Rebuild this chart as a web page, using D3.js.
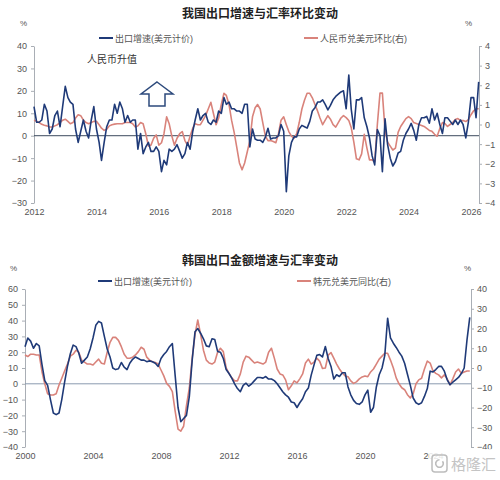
<!DOCTYPE html>
<html>
<head>
<meta charset="utf-8">
<script src="https://cdn.jsdelivr.net/npm/d3@7"></script>
<style>
  body { margin: 0; background: #fff; }
  svg text { font-family: "Liberation Sans", "Noto Sans CJK SC", sans-serif; }
</style>
</head>
<body>
<div id="chart"></div>
<script>
// ---- China: monthly from 2012-01 ----
var cnStart = [2012, 0];
var cnExport = [13,6,6,7,14,11,1,3,9,11,4,13,22,17,15,14,3,-3,2,7,2,-1,7,13,3,-3,-11,-3,4,7,7,14,10,15,12,6,9,6,7,7,
  -6,1,-8,-5,-3,-7,-7,-5,-7,-16,-11,-13,-6,-7,-6,-4,-7,-10,-8,-3,-6,2,7,12,7,9,10,6,5,7,6,11,10,17,14,15,12,12,11,11,
  10,14,14,-5,3,-1.5,-2,-2,-3,-0.6,3.3,-1.5,-1,-1,0,5,2,-25,-9,-3,-0.5,-0.5,3,4.6,4,3.4,6.4,11,12.5,15,15,16,14,11.5,13.5,16,
  17.5,18.5,19.5,20,12,27,12,3,16,16,17,8,4,-1,-9,-13,2.7,0,-16,7.5,-4,-10,-13.5,-11.5,-7.7,-7,-2,1,3,5.5,2.5,-2,5,8,
  8,8.6,5.6,12,7,10,5,1,8,8,6.5,5,7,5,7,4.9,-1,6,17,17,8,24];
var cnRate = [0.22,0.16,0.10,0.01,-0.04,-0.07,-0.13,-0.13,-0.07,-0.01,0.10,0.22,0.27,0.16,0.04,0.10,0.33,0.50,0.45,0.22,
  0.10,0.04,0.10,0.16,0.16,-0.01,-0.19,-0.30,-0.24,-0.07,-0.01,0.02,0.04,0.04,0.04,0.10,0.10,0.10,0.04,-0.13,
  -0.07,0.10,0.04,-0.47,-1.10,-1.05,-0.70,-0.53,-1.05,-0.93,-0.47,0.39,0.04,-0.59,-1.05,-0.70,-0.47,-0.36,-0.82,-1.05,
  -0.59,-0.19,0.04,-0.01,-0.01,0.22,0.45,0.79,1.13,0.56,-0.01,0.33,1.02,1.59,1.48,1.02,0.22,-0.41,-1.16,-1.96,
  -2.31,-1.96,-1.39,-0.82,0.39,0.85,1.02,0.79,0.10,-0.59,-0.82,-0.82,-0.87,-0.93,-0.47,0.22,0.39,-0.01,-0.36,-0.59,
  -0.70,-0.47,0.10,0.79,1.25,1.59,1.59,1.36,1.02,0.68,0.33,-0.01,0.22,0.45,0.27,-0.01,-0.13,0.10,0.33,0.45,
  0.35,0.2,-0.15,-0.9,-1.75,-1.8,-1.5,-0.5,-1.2,-1.8,-1.8,-1.9,0,1.6,1.6,-0.3,-0.9,-1.1,-1.3,-1.2,
  -0.4,-0.1,0.1,0.3,0.4,0.3,0.1,0.05,0,-0.05,-0.1,-0.2,-0.3,-0.35,-0.5,-0.6,-0.2,0.1,0.05,-0.1,
  0,0.1,0.25,0.3,0.2,0.2,0.15,0.25,0.5,0.7,0.8,0.8];
var cnYears = [2012,2014,2016,2018,2020,2022,2024,2026];
var cnLeftTicks = [-30,-20,-10,0,10,20,30,40];
var cnRightTicks = [-4,-3,-2,-1,0,1,2,3,4];

// ---- Korea: every 2 months from 2000-01 ----
var krStart = [2000, 0];
var krExport = [23.5,29,27,22.5,25.5,24,12,2,-1,-10,-18.5,-19.5,-18.5,-10,1,11,19,24.5,23.5,19.5,
  13,15,17,22,29,37,39.5,38.5,30,22,17,10,9,9.5,13.5,10.5,9,13,15.5,17,
  16,15,15,14,14.5,14,13,11,16,18.5,20.5,23.5,25.5,5,-15,-24,-22,-20,-8,15,
  33,35,32,28.5,24,23.5,28.5,28,20.5,20,16,9,6.5,3.6,0,-3,-5,-1,0.4,-1.5,
  0,2,4,4,3.6,4.6,3,3,2,0,-2.5,-5,-7,-8.5,-11.5,-12,-15,-12,-9.5,-5,
  -2.7,5.5,12,18,18.5,17,23.6,16,11,3,5.7,4.6,7,7,-2,-7,-10.5,-12.5,-13,-11.5,
  -7,-4,-18,-15,-2,5.7,10,18,41.5,29,25.7,23,20,17.5,13,6,-1,-9,-12,-13,
  -12,-8,-3,8,7.5,9,11,11,8,2.5,-0.6,1,2.5,4,6.5,10,28,42];
var krRate = [6.6,5.8,7,7,6.6,6.6,-2,-8,-13,-13.7,-13.7,-13,-8.6,-5.2,-1.5,2,6,7,9,8,
  4,3,2,2,1.5,3,4.5,2.4,2,8,13,15.5,15.5,14,10.8,7,5,4.9,5.5,6.6,
  8.3,10.5,9.5,5.5,4,3.2,2.8,2,-1,-4,-7.8,-9.3,-12,-22,-31,-32,-29.5,-19,-10,5,
  17,24.3,17,9,4,2.5,2,3,8,10,8.3,0,-2.7,-5,-6.5,-6.5,-3,3,6,5.5,
  4,2.5,3,2.5,2,3,8,10,5,-0.5,-3,-3.5,-6,-11,-9,-6.5,-7.5,-5.5,-3,2.5,
  4.5,2,3,5,3.5,-0.2,0,6.5,7.8,5,2,-0.5,-2.5,-4,-4.4,-6.5,-7.8,-7,-5.5,-4.5,
  -4,-4.4,-2,-0.5,2,4.5,6,7.5,7.5,4,0,-5,-8,-10,-11,-13.5,-15.2,-13,-8,-6,
  -5.2,-0.5,3.5,2.5,-1.5,-2.7,-3.5,-5,-3.5,-5.5,-8.5,-5.5,-2,-0.5,-2.7,-2,-1.5,-1.5];
var krYears = [2000,2004,2008,2012,2016,2020,2024];
var krLeftTicks = [-40,-30,-20,-10,0,10,20,30,40,50,60];
var krRightTicks = [-40,-30,-20,-10,0,10,20,30,40];

var BLUE = "#1f3a78", RED = "#d9837b", AXIS = "#a9aeb5", LABEL = "#555";

var svg = d3.select("#chart").append("svg")
    .attr("width", 500).attr("height", 480);

function styleAxis(g) {
    g.selectAll(".domain").attr("stroke", AXIS);
    g.selectAll(".tick line").attr("stroke", AXIS);
    g.selectAll("text").attr("fill", LABEL).style("font-size", "9px");
}

function legendItem(x, y, color, label) {
    svg.append("line").attr("x1", x).attr("x2", x + 14).attr("y1", y).attr("y2", y)
        .attr("stroke", color).attr("stroke-width", 2);
    svg.append("text").attr("x", x + 16).attr("y", y + 3.5)
        .style("font-size", "9px").attr("fill", LABEL).text(label);
}

function drawPanel(p) {
    var x = d3.scaleTime()
        .domain([new Date(p.years[0], 0, 1), new Date(p.years[p.years.length - 1], 0, 1)])
        .range([p.left, p.xEnd]);
    var yL = d3.scaleLinear().domain(d3.extent(p.leftTicks)).range([p.bottom, p.top]);
    var yR = d3.scaleLinear().domain(d3.extent(p.rightTicks)).range([p.bottom, p.top]);

    function dateOf(i) { return new Date(p.start[0], p.start[1] + i * p.step, 1); }

    // title
    svg.append("text").attr("x", 260).attr("y", p.titleY).attr("text-anchor", "middle")
        .style("font-size", "12px").style("font-weight", "bold").attr("fill", "#222")
        .text(p.title);
    svg.append("text").attr("x", p.pctL).attr("y", p.pctY).style("font-size", "8px")
        .attr("fill", LABEL).text("%");
    svg.append("text").attr("x", p.pctR).attr("y", p.pctY).style("font-size", "8px")
        .attr("fill", LABEL).text("%");

    legendItem(p.leg1, p.legY, BLUE, "出口增速(美元计价)");
    legendItem(p.leg2, p.legY, RED, p.redLabel);

    var gl = svg.append("g").attr("transform", "translate(" + p.left + ",0)")
        .call(d3.axisLeft(yL).tickValues(p.leftTicks).tickSize(3).tickPadding(4).tickSizeOuter(0));
    styleAxis(gl);
    var gr = svg.append("g").attr("transform", "translate(" + p.right + ",0)")
        .call(d3.axisRight(yR).tickValues(p.rightTicks).tickSize(3).tickPadding(3).tickSizeOuter(0));
    styleAxis(gr);
    var gx = svg.append("g").attr("transform", "translate(0," + p.bottom + ")")
        .call(d3.axisBottom(x).tickValues(p.years.map(function (d) { return new Date(d, 0, 1); }))
            .tickFormat(d3.timeFormat("%Y")).tickSize(0).tickPadding(6));
    gx.select(".domain").remove();
    gx.selectAll("text").attr("fill", LABEL).style("font-size", "9px");

    // zero line of left axis
    svg.append("line").attr("x1", p.left).attr("x2", p.right)
        .attr("y1", yL(0)).attr("y2", yL(0))
        .attr("stroke", p.zeroColor).attr("stroke-width", 1);

    var lineR = d3.line().x(function (d, i) { return x(dateOf(i)); }).y(function (d) { return yR(d); });
    var lineL = d3.line().x(function (d, i) { return x(dateOf(i)); }).y(function (d) { return yL(d); });

    svg.append("path").datum(p.rate).attr("d", lineR).attr("fill", "none")
        .attr("stroke", RED).attr("stroke-width", 1.6).attr("stroke-linejoin", "round");
    svg.append("path").datum(p.exp).attr("d", lineL).attr("fill", "none")
        .attr("stroke", BLUE).attr("stroke-width", 1.6).attr("stroke-linejoin", "round");
}

drawPanel({
    title: "我国出口增速与汇率环比变动", titleY: 18, pctL: 20, pctR: 465, pctY: 26,
    legY: 38, leg1: 99, leg2: 304, redLabel: "人民币兑美元环比(右)",
    left: 34, right: 479, xEnd: 471, top: 46, bottom: 203,
    years: cnYears, leftTicks: cnLeftTicks, rightTicks: cnRightTicks,
    start: cnStart, step: 1, exp: cnExport, rate: cnRate, zeroColor: "#3b4a5e"
});

drawPanel({
    title: "韩国出口金额增速与汇率变动", titleY: 265, pctL: 10, pctR: 464, pctY: 271,
    legY: 281, leg1: 98, leg2: 297, redLabel: "韩元兑美元同比(右)",
    left: 25, right: 471, xEnd: 433, top: 289, bottom: 447,
    years: krYears, leftTicks: krLeftTicks, rightTicks: krRightTicks,
    start: krStart, step: 2, exp: krExport, rate: krRate, zeroColor: "#8a9bb0"
});

// annotation: appreciation arrow
svg.append("text").attr("x", 87).attr("y", 63).style("font-size", "10px")
    .attr("fill", "#333").text("人民币升值");
svg.append("polygon")
    .attr("points", "157,82 173,94 165,94 165,106 149,106 149,94 141,94")
    .attr("fill", "#fff").attr("stroke", "#2d4a7c").attr("stroke-width", 1.5);

// watermark (covers the end of the last year label, as in the source image)
var wm = svg.append("g");
wm.append("rect").attr("x", 429).attr("y", 449).attr("width", 71).attr("height", 30)
    .attr("fill", "#fff").attr("opacity", 0.85);
wm.append("rect").attr("x", 432).attr("y", 455).attr("width", 15).attr("height", 17).attr("rx", 3)
    .attr("fill", "none").attr("stroke", "#bdbdbd").attr("stroke-width", 1.5);
wm.append("path")
    .attr("d", d3.arc()({ innerRadius: 3, outerRadius: 4.6, startAngle: 0.9, endAngle: 2 * Math.PI }))
    .attr("transform", "translate(439.5,463.5)").attr("fill", "#bdbdbd");
wm.append("text").attr("x", 451).attr("y", 470).style("font-size", "15px")
    .attr("fill", "#c4c4c4").text("格隆汇");
</script>
</body>
</html>
